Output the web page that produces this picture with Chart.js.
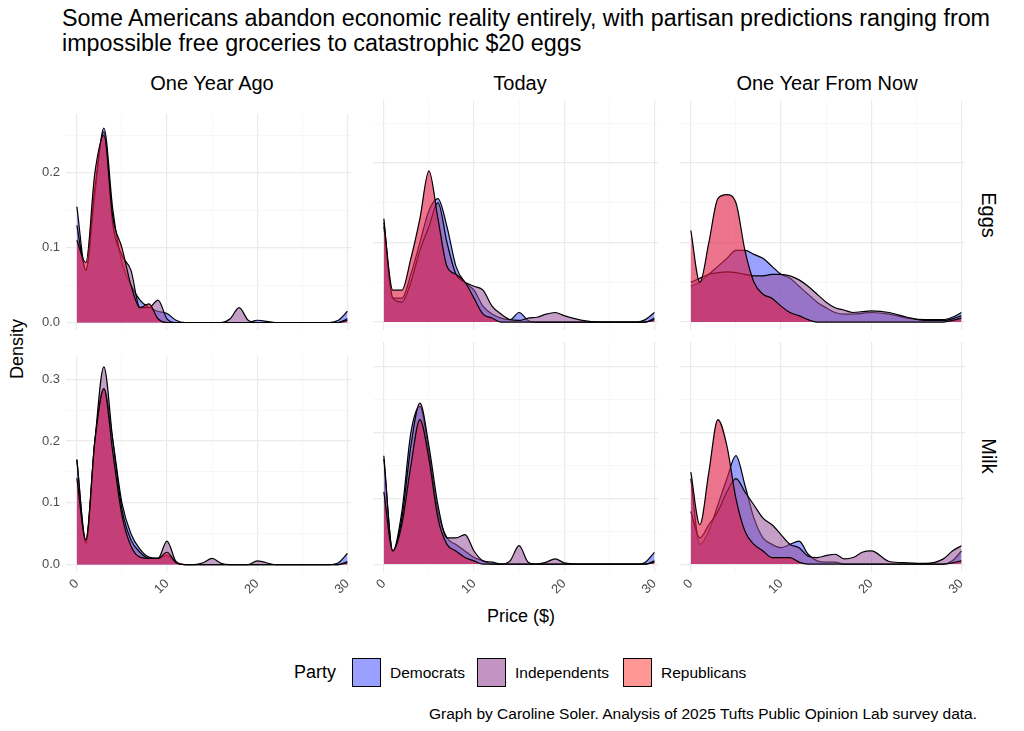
<!DOCTYPE html>
<html><head><meta charset="utf-8">
<script src="https://cdn.jsdelivr.net/npm/chart.js@4"></script>
<style>
body{margin:0;width:1024px;height:731px;background:#fff;font-family:"Liberation Sans",Arial,sans-serif;position:relative;overflow:hidden}
.t{position:absolute;color:#000;white-space:nowrap}
canvas{position:absolute}
.sw{position:absolute;width:29px;height:29px;border:1.5px solid #000;box-sizing:border-box}
</style></head><body>
<div class="t" style="left:62px;top:6px;font-size:23.3px;line-height:25px">Some Americans abandon economic reality entirely, with partisan predictions ranging from<br>impossible free groceries to catastrophic $20 eggs</div>
<div class="t" style="left:212px;top:72px;font-size:20px;transform:translateX(-50%)">One Year Ago</div>
<div class="t" style="left:520px;top:72px;font-size:20px;transform:translateX(-50%)">Today</div>
<div class="t" style="left:827px;top:72px;font-size:20px;transform:translateX(-50%)">One Year From Now</div>
<div class="t" style="left:988px;top:215px;font-size:20px;transform:translate(-50%,-50%) rotate(90deg)">Eggs</div>
<div class="t" style="left:988px;top:456px;font-size:20px;transform:translate(-50%,-50%) rotate(90deg)">Milk</div>
<div class="t" style="left:17px;top:349px;font-size:18px;transform:translate(-50%,-50%) rotate(-90deg)">Density</div>
<div class="t" style="left:521px;top:606px;font-size:18px;transform:translateX(-50%)">Price ($)</div>
<div class="t" style="left:294px;top:662px;font-size:18px">Party</div>
<div class="sw" style="left:352px;top:658px;background:rgba(110,120,255,0.7)"></div>
<div class="t" style="left:390px;top:664px;font-size:15.5px">Democrats</div>
<div class="sw" style="left:477px;top:658px;background:rgba(160,90,165,0.65)"></div>
<div class="t" style="left:515px;top:664px;font-size:15.5px">Independents</div>
<div class="sw" style="left:623px;top:658px;background:rgba(255,95,90,0.65)"></div>
<div class="t" style="left:661px;top:664px;font-size:15.5px">Republicans</div>
<div class="t" style="right:47px;top:705px;font-size:15.5px">Graph by Caroline Soler. Analysis of 2025 Tufts Public Opinion Lab survey data.</div>
<script>
const grid = [0,1,2,3,4,5,6,7,8,9,10,11,12,13,14,15,16,17,18,19,20,22,24,26,28,29,30];
const parties = ['Democrats','Independents','Republicans'];
const periods = ['One Year Ago','Today','One Year From Now'];

// Eggs
const eggsAgoDem = [0.155,0.07,0.17,0.26,0.15,0.08,0.05,0.03,0.02,0.015,0.012,0.003,0,0,0,0,0,0,0,0,0.003,0,0,0,0,0.003,0.015];
const eggsAgoInd = [0.13,0.07,0.18,0.255,0.13,0.09,0.07,0.02,0.02,0.03,0.005,0,0,0,0,0,0,0.005,0.02,0.003,0,0,0,0,0,0,0.005];
const eggsAgoRep = [0.11,0.08,0.2,0.25,0.14,0.1,0.05,0.02,0.025,0.005,0,0,0,0,0,0,0,0,0,0,0,0,0,0,0,0,0.003];
const eggsNowDem = [0.13,0.03,0.03,0.06,0.1,0.14,0.155,0.12,0.07,0.05,0.04,0.02,0.01,0.005,0.003,0.012,0.002,0,0,0,0,0,0,0,0,0.003,0.012];
const eggsNowInd = [0.12,0.03,0.025,0.05,0.09,0.12,0.15,0.1,0.06,0.05,0.045,0.04,0.02,0.01,0.003,0.002,0.005,0.006,0.01,0.012,0.008,0.002,0,0,0,0,0.005];
const eggsNowRep = [0.125,0.04,0.04,0.08,0.13,0.19,0.13,0.07,0.06,0.05,0.03,0.01,0.005,0,0,0,0,0,0,0,0,0,0,0,0,0,0.003];
const eggsNextDem = [0.045,0.05,0.06,0.07,0.08,0.09,0.09,0.085,0.08,0.07,0.06,0.055,0.045,0.035,0.025,0.018,0.012,0.01,0.01,0.011,0.012,0.01,0.005,0.003,0.003,0.006,0.012];
const eggsNextInd = [0.05,0.055,0.06,0.062,0.063,0.062,0.06,0.058,0.058,0.06,0.06,0.058,0.053,0.045,0.035,0.025,0.018,0.015,0.012,0.013,0.014,0.012,0.006,0.002,0.002,0.004,0.008];
const eggsNextRep = [0.115,0.05,0.1,0.155,0.16,0.15,0.09,0.05,0.035,0.03,0.02,0.012,0.008,0.003,0,0,0,0,0,0,0,0,0,0,0,0.002,0.005];
// Milk
const milkAgoDem = [0.17,0.04,0.2,0.285,0.2,0.1,0.05,0.025,0.012,0.01,0.015,0.003,0,0,0,0,0,0,0,0,0,0,0,0,0,0.003,0.018];
const milkAgoInd = [0.17,0.035,0.2,0.32,0.2,0.09,0.04,0.02,0.01,0.01,0.038,0.005,0,0,0.003,0.01,0.002,0,0,0,0.006,0,0,0,0,0,0.005];
const milkAgoRep = [0.14,0.04,0.2,0.285,0.18,0.08,0.03,0.012,0.01,0.01,0.02,0.003,0,0,0,0,0,0,0,0,0,0,0,0,0,0,0.003];
const milkNowDem = [0.165,0.02,0.08,0.2,0.24,0.17,0.08,0.04,0.03,0.02,0.01,0.005,0,0,0,0,0,0,0,0,0,0,0,0,0,0.003,0.018];
const milkNowInd = [0.16,0.02,0.07,0.18,0.245,0.18,0.09,0.04,0.04,0.045,0.02,0.005,0.003,0,0.005,0.028,0.003,0,0.003,0.008,0.002,0,0,0,0,0,0.005];
const milkNowRep = [0.11,0.02,0.06,0.15,0.22,0.16,0.07,0.03,0.02,0.01,0.005,0,0,0,0,0,0,0,0,0,0,0,0,0,0,0,0.003];
const milkNextDem = [0.13,0.03,0.05,0.09,0.13,0.165,0.12,0.07,0.04,0.03,0.025,0.03,0.035,0.015,0.005,0.003,0.003,0,0,0,0,0,0,0,0,0.005,0.02];
const milkNextInd = [0.08,0.04,0.06,0.08,0.11,0.13,0.11,0.09,0.07,0.06,0.045,0.03,0.025,0.012,0.01,0.013,0.015,0.008,0.01,0.018,0.02,0.004,0.002,0.001,0.008,0.02,0.028];
const milkNextRep = [0.14,0.06,0.14,0.22,0.18,0.1,0.05,0.03,0.02,0.01,0.01,0.01,0.003,0,0,0,0,0,0,0,0,0,0,0,0,0.002,0.005];

const xTicks = [0,5,10,15,20,25,30];
const eggsYTicks = [0,0.05,0.1,0.15,0.2,0.25];
const milkYTicks = [0,0.05,0.1,0.15,0.2,0.25,0.3];

const fills = ['rgba(100,110,255,0.65)','rgba(150,80,155,0.55)','rgba(225,30,70,0.62)'];

const panels = [
  {row:0,col:0,data:[eggsAgoDem,eggsAgoInd,eggsAgoRep]},
  {row:0,col:1,data:[eggsNowDem,eggsNowInd,eggsNowRep]},
  {row:0,col:2,data:[eggsNextDem,eggsNextInd,eggsNextRep]},
  {row:1,col:0,data:[milkAgoDem,milkAgoInd,milkAgoRep]},
  {row:1,col:1,data:[milkNowDem,milkNowInd,milkNowRep]},
  {row:1,col:2,data:[milkNextDem,milkNextInd,milkNextRep]}
];
const colLeft = [66,373,680], colW = 285;
const rowTop = [100,342], rowH = 230;
const padR = 16, padB0 = 14;
const major = v => Math.abs(v*10 - Math.round(v*10)) < 1e-6;

panels.forEach(p => {
  const leftAxis = p.col === 0 ? 40 : 0;
  const bottomAxis = p.row === 1 ? 40 : padB0;
  const cv = document.createElement('canvas');
  const w = colW + leftAxis + padR, h = rowH + bottomAxis;
  cv.style.left = (colLeft[p.col] - leftAxis) + 'px';
  cv.style.top = rowTop[p.row] + 'px';
  cv.width = w; cv.height = h;
  cv.style.width = w + 'px'; cv.style.height = h + 'px';
  document.body.appendChild(cv);
  const yT = p.row === 0 ? eggsYTicks : milkYTicks;
  new Chart(cv, {
    type: 'line',
    data: {datasets: p.data.map((vals,i) => ({
      label: parties[i],
      order: 2 - i,
      data: grid.map((x,j) => ({x:x, y:vals[j]})),
      backgroundColor: fills[i], borderColor: '#000', borderWidth: 1.2,
      fill: 'origin', pointRadius: 0, cubicInterpolationMode: 'monotone'
    }))},
    options: {
      responsive: false, animation: false, devicePixelRatio: 1,
      layout: {padding: {right: padR}},
      plugins: {legend: {display: false}, tooltip: {enabled: false}},
      scales: {
        x: {type: 'linear', min: -1.2, max: 30.4,
          afterBuildTicks: s => { s.ticks = xTicks.map(v => ({value: v})); },
          afterFit: s => { s.height = bottomAxis; },
          border: {display: false},
          grid: {color: c => c.tick && c.tick.value % 10 === 0 ? '#ebebeb' : '#f5f5f5', lineWidth: c => c.tick && c.tick.value % 10 === 0 ? 1.2 : 0.8, drawTicks: false},
          ticks: {display: p.row === 1, maxRotation: 45, minRotation: 45, padding: 4, color: '#4d4d4d', font: {size: 13, family: 'Liberation Sans'},
            callback: v => v % 10 === 0 ? String(v) : ''}
        },
        y: {type: 'linear', min: p.row === 0 ? -0.01 : -0.012, max: p.row === 0 ? 0.279 : 0.338,
          afterBuildTicks: s => { s.ticks = yT.map(v => ({value: v})); },
          afterFit: s => { s.width = leftAxis; },
          border: {display: false},
          grid: {color: c => c.tick && major(c.tick.value) ? '#ebebeb' : '#f5f5f5', lineWidth: c => c.tick && major(c.tick.value) ? 1.2 : 0.8, drawTicks: false},
          ticks: {display: p.col === 0, padding: 6, color: '#4d4d4d', font: {size: 13, family: 'Liberation Sans'},
            callback: v => major(v) ? v.toFixed(1) : ''}
        }
      }
    }
  });
});
</script>
</body></html>
